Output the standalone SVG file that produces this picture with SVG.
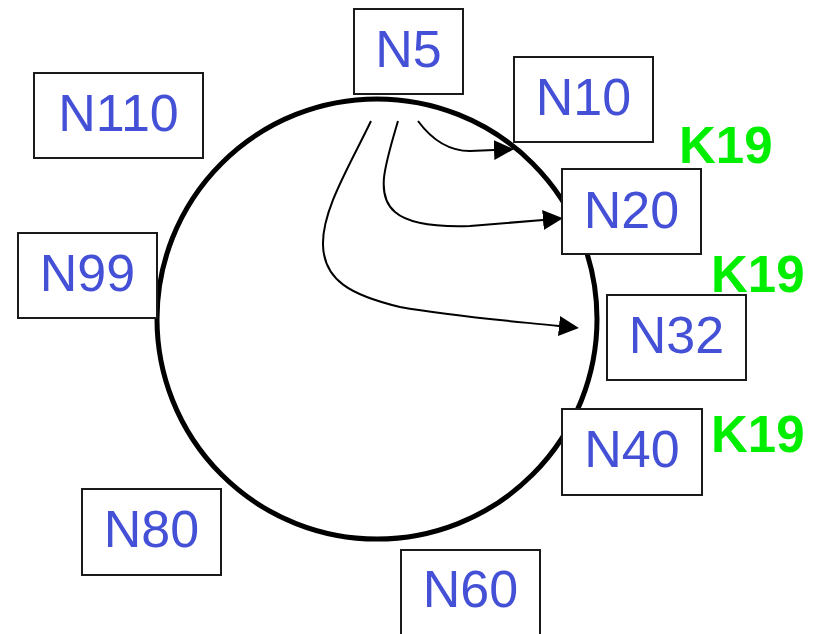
<svg xmlns="http://www.w3.org/2000/svg" width="818" height="634" viewBox="0 0 818 634">
  <style>
    .box { fill: #ffffff; stroke: #1a1a1a; stroke-width: 2; }
    .lbl { font-family: "Liberation Sans", Arial, sans-serif; font-size: 52px; fill: #4451d6; text-anchor: middle; }
    .key { font-family: "Liberation Sans", Arial, sans-serif; font-size: 51px; font-weight: bold; fill: #00ee00; }
    .ring { fill: none; stroke: #000000; stroke-width: 5; }
    .edge { fill: none; stroke: #000000; stroke-width: 2; marker-end: url(#arrow); }
  </style>
  <defs>
    <marker id="arrow" markerUnits="userSpaceOnUse" markerWidth="20" markerHeight="20" refX="0" refY="10" orient="auto" viewBox="0 0 20 20">
      <path d="M0,0 L20,10 L0,20 Z" fill="#000000"/>
    </marker>
  </defs>

  <!-- finger-table lookups from N5 -->
  <g id="connectors">
    <path class="edge" d="M418,121 C432,140 448,151 470,151 L494,150"/>
    <path class="edge" d="M398,121 C385,165 375,195 395,212 C410,225 440,227 470,226 L543,220"/>
    <path class="edge" d="M371,121 C350,165 322,210 323,245 C324,280 350,295 400,307 C450,316 500,320 559,326"/>
  </g>

  <!-- identifier ring -->
  <circle id="ring" class="ring" cx="377" cy="319" r="220"/>

  <g id="N5">
    <rect class="box" x="354" y="9" width="109" height="85"/>
    <text class="lbl" x="408.5" y="67">N5</text>
  </g>
  <g id="N10">
    <rect class="box" x="514" y="57" width="139" height="85"/>
    <text class="lbl" x="583.5" y="115">N10</text>
  </g>
  <g id="N20">
    <rect class="box" x="562" y="169" width="139" height="85"/>
    <text class="lbl" x="631.5" y="228">N20</text>
  </g>
  <g id="N32">
    <rect class="box" x="607" y="295" width="139" height="85"/>
    <text class="lbl" x="676.5" y="353">N32</text>
  </g>
  <g id="N40">
    <rect class="box" x="562" y="409" width="140" height="86"/>
    <text class="lbl" x="632" y="467">N40</text>
  </g>
  <g id="N60">
    <rect class="box" x="401" y="550" width="139" height="90"/>
    <text class="lbl" x="470.5" y="607">N60</text>
  </g>
  <g id="N80">
    <rect class="box" x="82" y="489" width="139" height="86"/>
    <text class="lbl" x="151.5" y="547">N80</text>
  </g>
  <g id="N99">
    <rect class="box" x="18" y="233" width="139" height="85"/>
    <text class="lbl" x="87.5" y="291">N99</text>
  </g>
  <g id="N110">
    <rect class="box" x="34" y="73" width="169" height="85"/>
    <text class="lbl" x="118.5" y="131">N110</text>
  </g>

  <!-- key K19 replicas -->
  <g id="keys">
    <text class="key" x="679" y="163">K19</text>
    <text class="key" x="711" y="292">K19</text>
    <text class="key" x="711" y="452">K19</text>
  </g>
</svg>
